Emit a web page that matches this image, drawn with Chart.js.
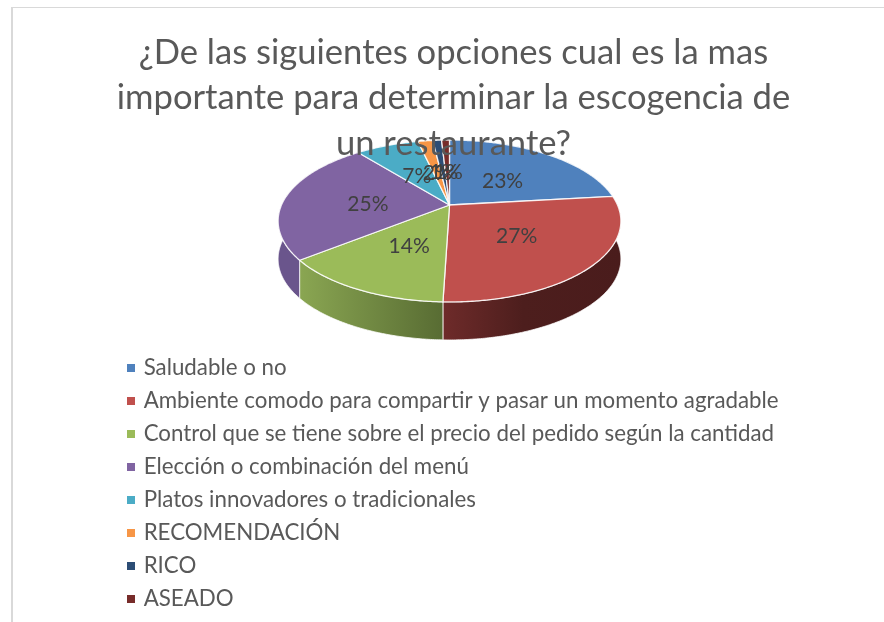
<!DOCTYPE html>
<html>
<head>
<meta charset="utf-8">
<style>html,body{margin:0;padding:0;background:#fff}canvas{display:block}</style>
<script src="https://cdn.jsdelivr.net/npm/chart.js@4"></script>
</head>
<body>
<canvas id="c" width="884" height="622"></canvas>
<script>
const titleLines = ['¿De las siguientes opciones cual es la mas','importante para determinar la escogencia de','un restaurante?'];
const categories = ['Saludable o no','Ambiente comodo para compartir y pasar un momento agradable','Control que se tiene sobre el precio del pedido según la cantidad','Elección o combinación del menú','Platos innovadores o tradicionales','RECOMENDACIÓN','RICO','ASEADO'];
const shares = [23.2,27.3,13.8,24.9,7.2,1.7,1.0,0.9];
const sliceColors = ['#4f81bd','#c0504d','#9bbb59','#8064a2','#4bacc6','#f79646','#2c4d75','#772c2a'];
const sideLeft = ['#3b5f8c','#6e2b2a','#8aa652','#6a558c','#38808f','#b56f33','#203856','#571f1e'];
const sideRight = ['#2a4465','#4a1c1c','#586c33','#6f5893','#28606c','#83502a','#17283e','#3f1716'];

const view = {ax:449.5, ay:205, a:168, b:77.8, p:-0.1975, depth:38, labelAt:0.5};
function project(angle, f){
  const u = Math.cos(angle)*f, v = Math.sin(angle)*f, w = 1 + view.p*v;
  return {x: view.ax + view.a*u/w, y: view.ay + view.b*v/w};
}
function rim(ctx, s, e, dy, reverse){
  const n = Math.max(4, Math.ceil((e-s)/0.01));
  for(let i=0;i<=n;i++){
    const k = reverse ? n-i : i;
    const p = project(s+(e-s)*k/n, 1);
    ctx.lineTo(p.x, p.y+dy);
  }
}
function redSide(c){
  const g=c.createLinearGradient(443,0,621,0);
  g.addColorStop(0,'#6e2b2a'); g.addColorStop(0.45,'#4d1e1d'); g.addColorStop(1,'#4a1c1c');
  return g;
}
const pie3d = {
  id:'pie3d',
  beforeLayout(chart){
    const t = chart.titleBlock;
    t._layers = () => [{z:1, draw(area){ t.draw(area); }}];
  },
  afterLayout(chart){
    const l = chart.legend;
    l.left = 118.8; l.right = 884; l.top = 346.2; l.bottom = 622;
  },
  beforeDraw(chart){
    const c = chart.ctx;
    c.save(); c.fillStyle='#fff'; c.fillRect(0,0,chart.width,chart.height);
    c.fillStyle='#d9d9d9';
    c.fillRect(11,7,chart.width-11,1);
    c.fillRect(11,7,2,chart.height-7);
    c.restore();
  },
  beforeDatasetDraw(chart,args){
    const c = chart.ctx, arcs = chart.getDatasetMeta(args.index).data;
    c.save();
    arcs.forEach((arc,i)=>{
      const s=arc.startAngle, e=arc.endAngle;
      const x0=project(s,1).x, x1=project(e,1).x;
      const g=c.createLinearGradient(Math.min(x0,x1),0,Math.max(x0,x1),0);
      g.addColorStop(0,sideLeft[i]); g.addColorStop(1,sideRight[i]);
      c.beginPath(); rim(c,s,e,0,false); rim(c,s,e,view.depth,true); c.closePath();
      c.fillStyle = (i===1) ? redSide(c) : g;
      c.strokeStyle='rgba(255,255,255,0.75)'; c.lineWidth=1;
      c.fill(); c.stroke();
    });
    arcs.forEach((arc,i)=>{
      c.beginPath(); c.moveTo(view.ax,view.ay); rim(c,arc.startAngle,arc.endAngle,0,false); c.closePath();
      c.fillStyle=sliceColors[i]; c.strokeStyle='rgba(255,255,255,0.85)'; c.lineWidth=1.3; c.lineJoin='round';
      c.fill(); c.stroke();
    });
    c.font='21px Lato'; c.fillStyle='#404040'; c.textAlign='center'; c.textBaseline='middle';
    arcs.forEach((arc,i)=>{
      const p=project((arc.startAngle+arc.endAngle)/2, view.labelAt);
      c.fillText(Math.round(shares[i])+'%',p.x+1,p.y+3);
    });
    c.restore();
    return false;
  }
};
new Chart(document.getElementById('c'),{
  type:'pie',
  data:{labels:categories,datasets:[{data:shares,backgroundColor:sliceColors,borderColor:sliceColors,borderWidth:5}]},
  options:{
    responsive:false, animation:false, events:[],
    layout:{padding:{left:23}},
    plugins:{
      title:{display:true,text:titleLines,color:'#595959',font:{family:'Lato',size:34.6,weight:'normal',lineHeight:45.5/34.6},padding:{top:30,bottom:0}},
      legend:{display:true,position:'left',align:'start',labels:{boxWidth:3,boxHeight:3,padding:10.7,color:'#595959',font:{family:'Lato',size:22.3,lineHeight:33/22.3}}},
      tooltip:{enabled:false}
    }
  },
  plugins:[pie3d]
});
</script>
</body>
</html>
